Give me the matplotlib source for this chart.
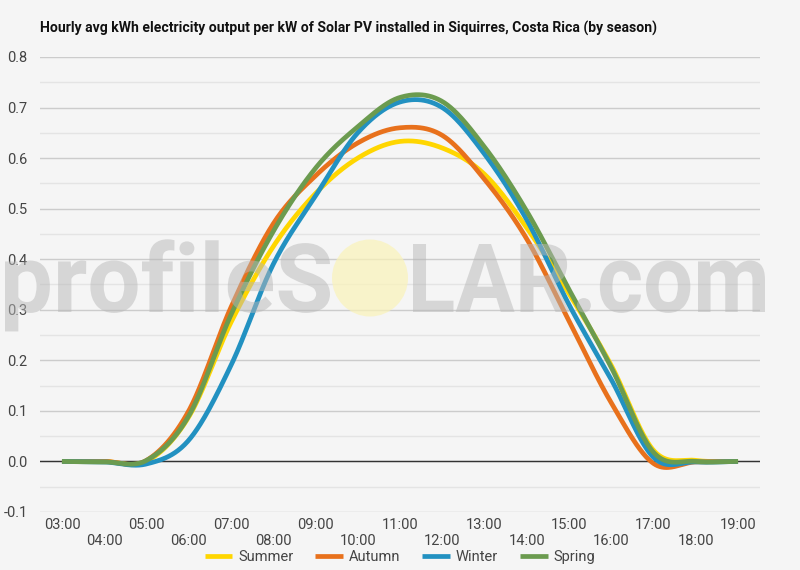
import matplotlib
matplotlib.use("Agg")
import matplotlib.pyplot as plt
import numpy as np
from matplotlib.textpath import TextPath
from matplotlib.patches import PathPatch, Ellipse
from matplotlib.font_manager import FontProperties
from matplotlib.transforms import Affine2D, IdentityTransform

plt.rcParams["font.family"] = ["Roboto", "DejaVu Sans"]

# hourly values (kWh per kW installed)
hours = list(range(3, 20))
hour_labels = ["%02d:00" % h for h in hours]
summer = [0, 0, 0.0, 0.088, 0.275, 0.425, 0.53, 0.60, 0.633, 0.62, 0.568, 0.462, 0.332, 0.19, 0.022, 0.002, 0]
autumn = [0, 0, 0.002, 0.10, 0.305, 0.47, 0.565, 0.63, 0.66, 0.645, 0.558, 0.44, 0.278, 0.116, -0.004, -0.001, 0]
winter = [0, -0.001, -0.005, 0.042, 0.19, 0.39, 0.525, 0.65, 0.711, 0.70, 0.608, 0.478, 0.31, 0.162, 0.008, -0.001, 0]
spring = [0, -0.001, 0.002, 0.09, 0.29, 0.455, 0.58, 0.662, 0.72, 0.712, 0.622, 0.495, 0.34, 0.186, 0.018, 0, 0]

series = [("Summer", summer, "#FFD600"),
          ("Autumn", autumn, "#E8711C"),
          ("Winter", winter, "#2291C1"),
          ("Spring", spring, "#6B9B4F")]


def smooth_curve(x, y, n=40):
    # cubic hermite through the hourly points (catmull-rom tangents)
    x = np.asarray(x, float)
    y = np.asarray(y, float)
    m = np.gradient(y, x)
    xs, ys = [], []
    for i in range(len(x) - 1):
        h = x[i + 1] - x[i]
        t = np.linspace(0, 1, n, endpoint=False)
        h00 = 2 * t ** 3 - 3 * t ** 2 + 1
        h10 = t ** 3 - 2 * t ** 2 + t
        h01 = -2 * t ** 3 + 3 * t ** 2
        h11 = t ** 3 - t ** 2
        xs.append(x[i] + t * h)
        ys.append(h00 * y[i] + h10 * h * m[i] + h01 * y[i + 1] + h11 * h * m[i + 1])
    xs.append([x[-1]])
    ys.append([y[-1]])
    return np.concatenate(xs), np.concatenate(ys)


fig = plt.figure(figsize=(8, 5.7), dpi=100, facecolor="#f5f5f5")
ax = fig.add_axes([0.05, 0.1018, 0.90, 0.7982])
ax.set_facecolor("#f5f5f5")

for name, vals, col in series:
    xs, ys = smooth_curve(hours, vals)
    ax.plot(xs, ys, color=col, lw=3.4, label=name, solid_capstyle="butt", zorder=3)

ax.set_xlim(2.48, 19.52)
ax.set_ylim(-0.1, 0.8)
ax.set_yticks(np.arange(-0.1, 0.81, 0.1))
ax.set_yticklabels(["%.1f" % v for v in np.arange(-0.1, 0.81, 0.1)])
ax.set_yticks(np.arange(-0.05, 0.8, 0.1), minor=True)
ax.grid(axis="y", which="major", color="#cccccc", lw=1)
ax.grid(axis="y", which="minor", color="#e4e4e4", lw=1)
ax.axhline(0, color="#333333", lw=1, zorder=2)
ax.set_axisbelow(True)

ax.set_xticks(hours)
ax.set_xticklabels([lab if i % 2 == 0 else "\n" + lab for i, lab in enumerate(hour_labels)])
ax.tick_params(axis="both", which="both", length=0, labelsize=10.5, labelcolor="#444444")
ax.tick_params(axis="x", pad=4)
ax.tick_params(axis="y", pad=9)
for s in ax.spines.values():
    s.set_visible(False)

fig.text(0.05, 1 - 28 / 570, "Hourly avg kWh electricity output per kW of Solar PV installed in Siquirres, Costa Rica (by season)",
         fontsize=10.1, fontweight="bold", color="#111111", va="center", ha="left")

leg = fig.legend(loc="center", bbox_to_anchor=(0.5, 1 - 557 / 570), ncol=4, frameon=False,
                 fontsize=10.5, handlelength=1.9, columnspacing=1.5, handletextpad=0.4)
for t in leg.get_texts():
    t.set_color("#444444")


# watermark
def fit_text(s, x0, x1, base, cap):
    fp = FontProperties(family="Roboto", weight="bold")
    tp = TextPath((0, 0), s, size=100, prop=fp)
    ext = tp.get_extents()
    sx = (x1 - x0) / ext.width
    sy = cap / 71.1
    tr = Affine2D().translate(-ext.x0, 0).scale(sx, sy).translate(x0, 570 - base)
    patch = PathPatch(tr.transform_path(tp), transform=IdentityTransform(),
                      facecolor="#b8b8b8", edgecolor="none", alpha=0.5, zorder=5)
    fig.add_artist(patch)


fit_text("profileS", 5, 330, 312, 68)
fit_text("LAR.com", 413, 765, 312, 68)
sun = Ellipse((370, 570 - 278), 76, 77, transform=IdentityTransform(),
              facecolor="#faf3b8", edgecolor="none", alpha=0.7, zorder=5)
fig.add_artist(sun)

fig.savefig("out.png", dpi=100, facecolor=fig.get_facecolor())
